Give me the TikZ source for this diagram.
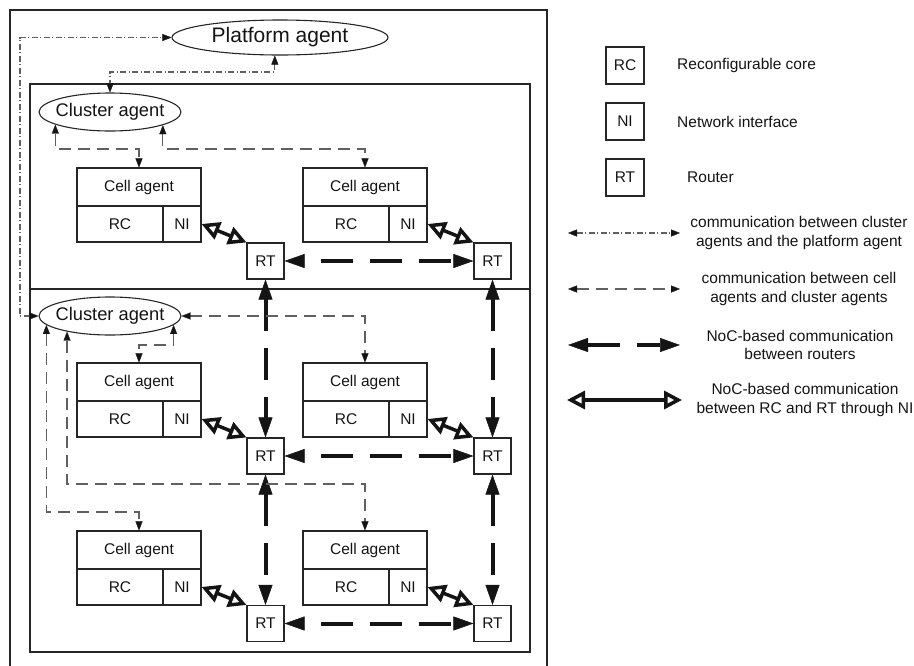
\documentclass[tikz,border=0pt]{standalone}
\usepackage{fontspec}
\setmainfont{Liberation Sans}
\usetikzlibrary{arrows.meta,shapes.geometric}

\definecolor{ink}{HTML}{141414}
\definecolor{frame}{HTML}{262626}
\definecolor{wire}{HTML}{606060}
\newcommand\labelsize{\fontsize{15.5}{18.5}\selectfont}

\tikzset{
  cellpart/.style={draw=frame, line width=1.1pt, inner sep=0pt, text=ink, font=\labelsize},
  agentpart/.style={cellpart, minimum width=124pt, minimum height=38pt},
  corepart/.style={cellpart, minimum width=86pt, minimum height=36pt},
  ifpart/.style={cellpart, minimum width=38pt, minimum height=36pt},
  routerbox/.style={cellpart, minimum width=37pt, minimum height=36pt},
  keybox/.style={cellpart, minimum width=38pt, minimum height=37pt},
  keytext/.style={inner sep=0pt, text=ink, font=\labelsize, align=center},
  agentoval/.style={ellipse, draw=frame, line width=1.1pt, inner xsep=-25pt, inner ysep=-6pt, text=ink},
  clusteroval/.style={agentoval, minimum width=142pt, minimum height=38pt, font=\fontsize{18.3}{20}\selectfont},
  platformoval/.style={agentoval, minimum width=216pt, minimum height=35pt, font=\fontsize{21}{24}\selectfont},
  region/.style={draw=frame, line width=2.6pt},
  smalltips/.style={{Triangle[length=9pt,width=7pt,line width=0.3pt,color=ink]}-{Triangle[length=9pt,width=7pt,line width=0.3pt,color=ink]}},
  celllink/.style={draw=wire, line width=1.1pt, dash pattern=on 12pt off 7pt, smalltips},
  clusterlink/.style={draw=wire, line width=1.1pt, dash pattern=on 6pt off 2.5pt on 1pt off 2.5pt, smalltips},
  noclink/.style={draw=ink, line width=4pt, dash pattern=on 32pt off 17pt,
    {Triangle[length=20pt,width=14pt,line width=0.5pt]}-{Triangle[length=20pt,width=14pt,line width=0.5pt]}},
  noch/.style={noclink, dash phase=32pt},
  nilink/.style={draw=ink, line width=3.5pt,
    {Triangle[open,length=18pt,width=18pt]}-{Triangle[open,length=18pt,width=18pt]}},
}

\begin{document}
\begin{tikzpicture}[x=1pt,y=-1pt]
\useasboundingbox (0,0) rectangle (914,665);
\clip (0,0) rectangle (914,665);

% platform frame and the two cluster regions
\draw[region] (10,672) -- (10,10) -- (547,10) -- (547,672);
\draw[region] (30,84) rectangle (530,289);
\draw[region] (30,289) rectangle (530,652);

% agents
\node[platformoval] (P) at (280,37.5) {Platform agent};
\node[clusteroval] (C1) at (110,112) {Cluster agent};
\node[clusteroval] (C2) at (110,316) {Cluster agent};

% cells: cell agent on top, reconfigurable core and network interface below
\foreach \i/\x/\y in {1/77/168, 2/303/168, 3/77/363, 4/303/363, 5/77/531, 6/303/531} {
  \node[agentpart] (A\i) at (\x+62,\y+19) {Cell agent};
  \node[corepart] (R\i) at (\x+43,\y+56) {RC};
  \node[ifpart] (N\i) at (\x+105,\y+56) {NI};
}

% routers
\foreach \i/\x/\y in {1/265.5/261, 2/492.5/261, 3/265.5/456, 4/492.5/456, 5/265.5/623.5, 6/492.5/623.5}
  \node[routerbox] (T\i) at (\x,\y) {RT};

% NI to router links
\foreach \i in {1,...,6}
  \draw[nilink] (N\i.east) -- (T\i.north west);

% router mesh
\draw[noch] (T1.east) -- (T2.west);
\draw[noch] (T3.east) -- (T4.west);
\draw[noch] (T5.east) -- (T6.west);
\draw[noclink] (T1.south) -- (T3.north);
\draw[noclink] (T3.south) -- (T5.north);
\draw[noclink] (T2.south) -- (T4.north);
\draw[noclink] (T4.south) -- (T6.north);

% routing levels for the agent wires
\coordinate (ddx) at (20,0);
\coordinate (ddy) at (0,72);
\coordinate (bus1) at (0,149);
\coordinate (bus3) at (0,345);
\coordinate (bus4) at (0,484);
\coordinate (bus5) at (0,512);

% cluster agents <-> platform agent
\draw[clusterlink] (C2.west) -- (ddx |- C2.west) |- (P.west);
\draw[clusterlink] (P.254) -- (P.254 |- ddy) -| (C1.north);

% cell agents <-> cluster agents
\draw[celllink] (C1.193) -- (C1.193 |- bus1) -| (A1.north);
\draw[celllink] (C1.346) -- (C1.346 |- bus1) -| (A2.north);
\draw[celllink] (C2.352) -- (C2.352 |- bus3) -| (A3.north);
\draw[celllink] (C2.east) -| (A4.north);
\draw[celllink] (C2.188) -- (C2.188 |- bus5) -| (A5.north);
\draw[celllink] (C2.200) -- (C2.200 |- bus4) -| (A6.north);

% legend
\node[keybox] (kRC) at (625,65.5) {RC};
\node[keybox] (kNI) at (625,121.5) {NI};
\node[keybox] (kRT) at (625,177.5) {RT};
\node[keytext, anchor=west] (tRC) at (677,65.5) {Reconfigurable core};
\node[keytext, anchor=west] (tNI) at (677,121.5) {Network interface};
\node[keytext, anchor=west] (tRT) at (687,177.5) {Router};

\coordinate (k1a) at (568,233); \coordinate (k1b) at (680,233);
\coordinate (k2a) at (568,289); \coordinate (k2b) at (680,289);
\coordinate (k3a) at (568,345); \coordinate (k3b) at (680,345);
\coordinate (k4a) at (567,400); \coordinate (k4b) at (682,400);
\draw[clusterlink] (k1a) -- (k1b);
\draw[celllink] (k2a) -- (k2b);
\draw[noclink] (k3a) -- (k3b);
\draw[nilink] (k4a) -- (k4b);

\node[keytext] (t1) at (799,233) {communication between cluster\\agents and the platform agent};
\node[keytext] (t2) at (799,289) {communication between cell\\agents and cluster agents};
\node[keytext] (t3) at (800,345) {NoC-based communication\\between routers};
\node[keytext] (t4) at (805,400) {NoC-based communication\\between RC and RT through NI};
\end{tikzpicture}
\end{document}
